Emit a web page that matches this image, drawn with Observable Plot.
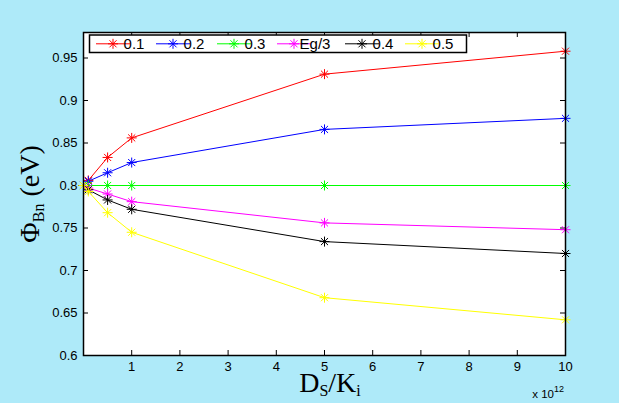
<!DOCTYPE html>
<html>
<head>
<meta charset="utf-8">
<script src="https://cdn.jsdelivr.net/npm/d3@7"></script>
<script src="https://cdn.jsdelivr.net/npm/@observablehq/plot@0.6"></script>
<style>
  html, body { margin: 0; padding: 0; background: #aeeaf9; }
  #chart { position: relative; width: 619px; height: 403px; background: #aeeaf9; overflow: hidden; }
  #chart svg { display: block; }
</style>
</head>
<body>
<div id="chart"></div>
<script>
// ---- data (x in units of 1e12) ----
const xValues = [0, 0.1, 0.5, 1, 5, 10];
const seriesNames = ["0.1", "0.2", "0.3", "Eg/3", "0.4", "0.5"];
const seriesColors = ["#ff0000", "#0000ff", "#00ff00", "#ff00ff", "#000000", "#ffff00"];
const s01  = [0.800, 0.806, 0.833, 0.856, 0.931, 0.958];
const s02  = [0.800, 0.805, 0.815, 0.827, 0.866, 0.879];
const s03  = [0.800, 0.800, 0.800, 0.800, 0.800, 0.800];
const sEg3 = [0.800, 0.797, 0.790, 0.781, 0.756, 0.748];
const s04  = [0.800, 0.795, 0.783, 0.772, 0.734, 0.720];
const s05  = [0.800, 0.793, 0.768, 0.745, 0.668, 0.642];
const seriesValues = [s01, s02, s03, sEg3, s04, s05];
const xTicks = [1, 2, 3, 4, 5, 6, 7, 8, 9, 10];
const yTicks = [0.6, 0.65, 0.7, 0.75, 0.8, 0.85, 0.9, 0.95];
const yTickLabels = ["0.6", "0.65", "0.7", "0.75", "0.8", "0.85", "0.9", "0.95"];

const rows = [];
seriesNames.forEach((name, i) => {
  xValues.forEach((x, j) => rows.push({series: name, x, y: seriesValues[i][j]}));
});

// MATLAB-like asterisk marker (+ and x combined)
const star = {
  draw(ctx, size) {
    const r = Math.sqrt(size / Math.PI);
    const d = r * Math.SQRT1_2;
    ctx.moveTo(-r, 0); ctx.lineTo(r, 0);
    ctx.moveTo(0, -r); ctx.lineTo(0, r);
    ctx.moveTo(-d, -d); ctx.lineTo(d, d);
    ctx.moveTo(-d, d); ctx.lineTo(d, -d);
  }
};

const W = 619, H = 403;
const mL = 83, mR = 54, mT = 32, mB = 48;
const pw = W - mL - mR, ph = H - mT - mB;
const tk = 5;

const colorScale = {domain: seriesNames, range: seriesColors};

const plot = Plot.plot({
  width: W, height: H,
  marginLeft: mL, marginRight: mR, marginTop: mT, marginBottom: mB,
  style: {background: "transparent", fontFamily: "Liberation Sans, Arial, sans-serif", fontSize: "13px", color: "#000"},
  x: {domain: [0, 10]},
  y: {domain: [0.6, 0.98]},
  color: colorScale,
  marks: [
    Plot.frame({fill: "white", stroke: "none"}),
    // inward ticks bottom/top
    Plot.ruleX(xTicks, {x: d => d, insetTop: ph - tk, stroke: "black", strokeWidth: 1}),
    Plot.ruleX(xTicks, {x: d => d, insetBottom: ph - tk, stroke: "black", strokeWidth: 1}),
    // inward ticks left/right
    Plot.ruleY(yTicks, {y: d => d, insetRight: pw - tk, stroke: "black", strokeWidth: 1}),
    Plot.ruleY(yTicks, {y: d => d, insetLeft: pw - tk, stroke: "black", strokeWidth: 1}),
    Plot.axisX({ticks: xTicks, tickSize: 0, tickPadding: 6, label: null, fontSize: 13}),
    Plot.axisY({ticks: yTicks, tickSize: 0, tickPadding: 6, label: null, fontSize: 13,
      tickFormat: d => yTickLabels[yTicks.findIndex(t => Math.abs(t - d) < 1e-9)]}),
    Plot.line(rows, {x: "x", y: "y", z: "series", stroke: "series", strokeWidth: 1}),
    Plot.dot(rows, {x: "x", y: "y", stroke: "series", symbol: star, r: 5, strokeWidth: 1, fill: "none"}),
    Plot.frame({stroke: "black", strokeWidth: 1.5})
  ]
});
document.getElementById("chart").appendChild(plot);

// ---- labels and legend overlays ----
const svg = d3.select(plot);
const serif = "Liberation Serif, Times New Roman, serif";

// y label
const yl = svg.append("text")
  .attr("transform", "translate(39,194) rotate(-90)")
  .attr("text-anchor", "middle")
  .attr("font-family", serif).attr("font-size", 28).attr("fill", "black");
yl.append("tspan").text("Φ");
yl.append("tspan").attr("font-size", 16).attr("dy", 5).text("Bn");
yl.append("tspan").attr("dy", -5).text(" (eV)");

// x label
const xl = svg.append("text")
  .attr("x", 330).attr("y", 392)
  .attr("text-anchor", "middle")
  .attr("font-family", serif).attr("font-size", 28).attr("fill", "black");
xl.append("tspan").text("D");
xl.append("tspan").attr("font-size", 16).attr("dy", 4).text("S");
xl.append("tspan").attr("dy", -4).text("/K");
xl.append("tspan").attr("font-size", 16).attr("dy", 4).text("i");

// x exponent
const ex = svg.append("text")
  .attr("x", 564).attr("y", 398)
  .attr("text-anchor", "end")
  .attr("font-family", "Liberation Sans, Arial, sans-serif").attr("font-size", 11.5).attr("fill", "black");
ex.append("tspan").text("x 10");
ex.append("tspan").attr("font-size", 9).attr("dy", -6).text("12");

// legend
const lg = svg.append("g");
lg.append("rect").attr("x", 89.5).attr("y", 35).attr("width", 377).attr("height", 17.5)
  .attr("fill", "white").attr("stroke", "black").attr("stroke-width", 1.5);
const legendX = [96, 156, 217, 277, 345, 405];
seriesNames.forEach((name, i) => {
  const x0 = legendX[i], cy = 43.8;
  lg.append("line").attr("x1", x0).attr("x2", x0 + 34).attr("y1", cy).attr("y2", cy)
    .attr("stroke", seriesColors[i]).attr("stroke-width", 1);
  const sym = d3.path();
  star.draw(sym, Math.PI * 25);
  lg.append("path").attr("d", sym.toString()).attr("transform", `translate(${x0 + 17},${cy})`)
    .attr("stroke", seriesColors[i]).attr("fill", "none").attr("stroke-width", 1);
  lg.append("text").attr("x", x0 + 38).attr("y", cy + 5.5)
    .attr("font-family", "Liberation Sans, Arial, sans-serif").attr("font-size", 15)
    .attr("fill", "black").text(name);
});
</script>
</body>
</html>
